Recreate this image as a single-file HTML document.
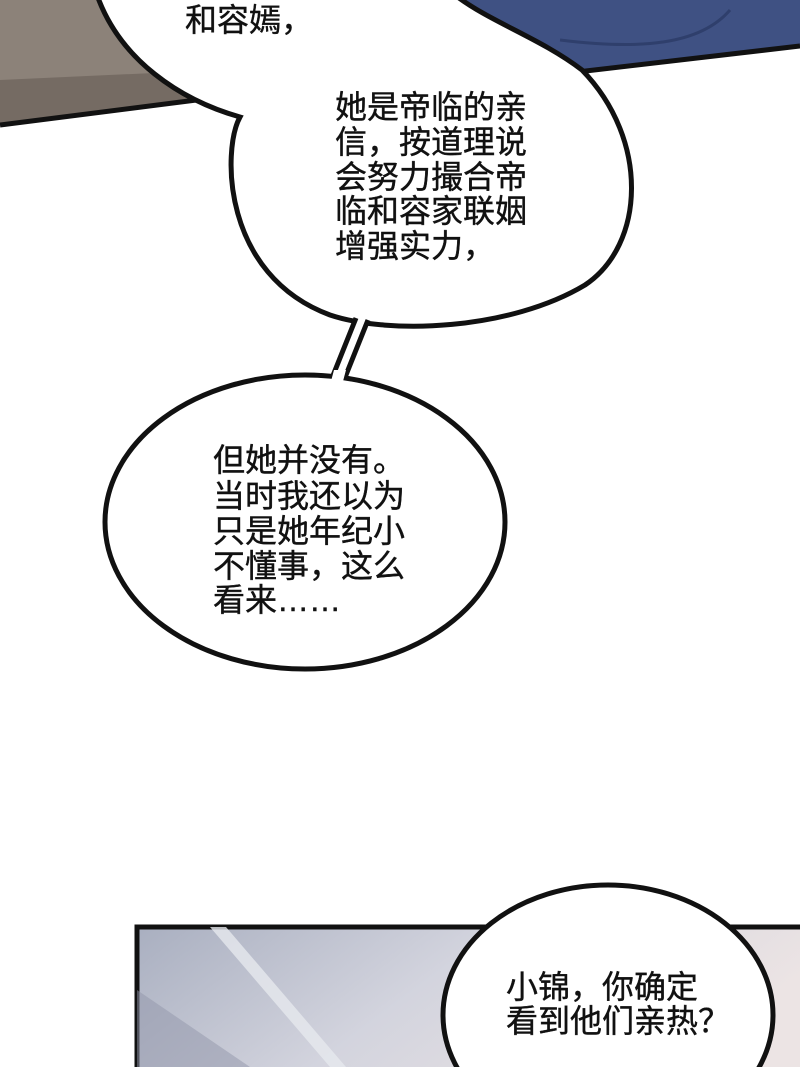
<!DOCTYPE html>
<html><head><meta charset="utf-8"><style>
html,body{margin:0;padding:0;background:#fff;overflow:hidden;width:800px;height:1067px;}
svg{display:block}
text{font-family:"Liberation Sans","Noto Sans CJK SC",sans-serif;font-size:32px;fill:#111;stroke:#111;stroke-width:0.4;}
</style></head><body>
<svg width="800" height="1067" viewBox="0 0 800 1067" xmlns="http://www.w3.org/2000/svg">
<defs>
<linearGradient id="g" x1="0" y1="0" x2="1" y2="0.3">
<stop offset="0" stop-color="#a9afc0"/><stop offset="0.5" stop-color="#d3d4de"/><stop offset="1" stop-color="#ece4e4"/>
</linearGradient>
</defs>
<rect width="800" height="1067" fill="#fff"/>
<polygon points="0,0 220,0 220,98 0,125" fill="#8c8279"/>
<polygon points="0,80 220,70 220,98 0,125" fill="#756b63"/>
<line x1="0" y1="125" x2="220" y2="97" stroke="#111" stroke-width="5"/>
<polygon points="430,0 800,0 800,47 560,74 430,60" fill="#3f5183"/>
<path d="M560,40 C640,50 700,45 730,10" stroke="#2f3f6c" stroke-width="3" fill="none"/>
<line x1="560" y1="74" x2="800" y2="46" stroke="#111" stroke-width="5"/>
<path d="M97,-5 C120,60 180,100 240,117 C222,150 222,275 330,315 C390,335 510,330 585,285 C645,245 650,140 582,70 C540,38 490,22 455,-5 Z" fill="#fff" stroke="#111" stroke-width="5"/>
<polygon points="356,312 370,312 345,383 330,383" fill="#fff"/>
<line x1="356" y1="318" x2="332" y2="378" stroke="#111" stroke-width="5"/>
<line x1="368" y1="320" x2="344" y2="380" stroke="#111" stroke-width="5"/>
<ellipse cx="305" cy="522" rx="200" ry="147" fill="#fff" stroke="#111" stroke-width="5"/>
<polygon points="334,370 346,370 342,385 330,385" fill="#fff"/>
<rect x="137" y="927" width="670" height="150" fill="url(#g)" stroke="#111" stroke-width="5"/>
<polygon points="210,927 226,927 346,1067 330,1067" fill="#e6e8ee" opacity="0.8"/>
<polygon points="137,990 137,1067 250,1067" fill="#9196aa" opacity="0.5"/>
<ellipse cx="608" cy="1015" rx="165" ry="130" fill="#fff" stroke="#111" stroke-width="5"/>
<text x="185" y="31">和容嫣，</text>
<text x="335" y="118">她是帝临的亲</text>
<text x="335" y="153">信，按道理说</text>
<text x="335" y="188">会努力撮合帝</text>
<text x="335" y="222">临和容家联姻</text>
<text x="335" y="257">增强实力，</text>
<text x="213" y="471">但她并没有。</text>
<text x="213" y="507">当时我还以为</text>
<text x="213" y="542">只是她年纪小</text>
<text x="213" y="577">不懂事，这么</text>
<text x="213" y="611">看来……</text>
<text x="506" y="998">小锦，你确定</text>
<text x="506" y="1032">看到他们亲热？</text>
</svg>
</body></html>
